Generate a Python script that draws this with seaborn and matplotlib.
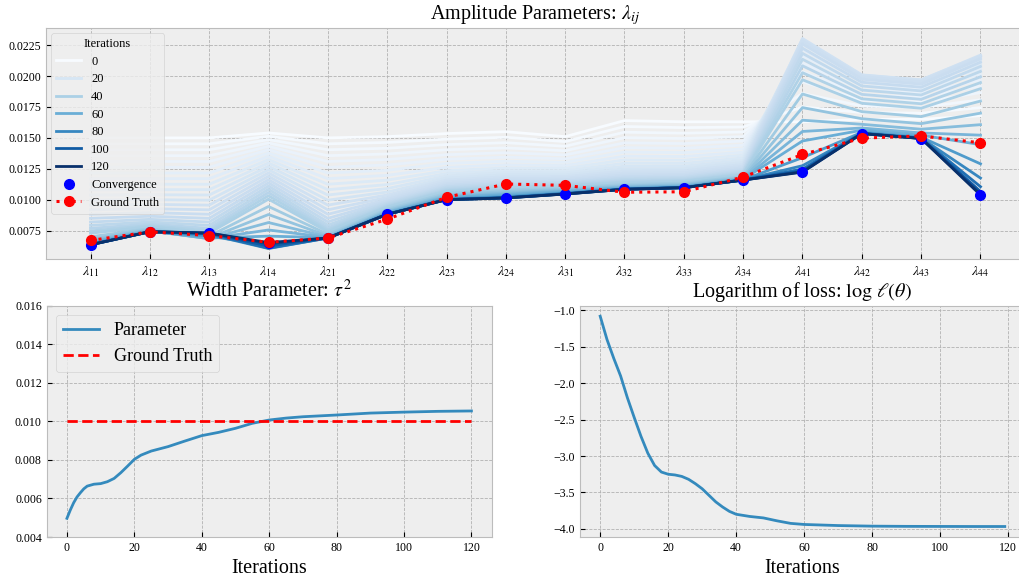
import numpy as np
import pandas as pd
import matplotlib
matplotlib.use("Agg")
import matplotlib.pyplot as plt
import seaborn as sns

# ---------------------------------------------------------------- data
param_labels = [r"$\lambda_{11}$", r"$\lambda_{12}$", r"$\lambda_{13}$", r"$\lambda_{14}$",
                r"$\lambda_{21}$", r"$\lambda_{22}$", r"$\lambda_{23}$", r"$\lambda_{24}$",
                r"$\lambda_{31}$", r"$\lambda_{32}$", r"$\lambda_{33}$", r"$\lambda_{34}$",
                r"$\lambda_{41}$", r"$\lambda_{42}$", r"$\lambda_{43}$", r"$\lambda_{44}$"]

# iterations at which the amplitude estimates were recorded
snapshot_iters = [0, 2, 4, 6, 8, 10, 12, 14, 16, 18, 20, 22, 24, 26, 28, 30, 32, 34, 36, 38, 40,
                  44, 48, 52, 56, 60, 70, 80, 90, 100, 110, 120]

lam11 = [0.01500, 0.01452, 0.01404, 0.01356, 0.01309, 0.01262, 0.01216, 0.01170, 0.01125, 0.01081, 0.01038,
         0.00996, 0.00956, 0.00918, 0.00882, 0.00849, 0.00819, 0.00792, 0.00768, 0.00747, 0.00729,
         0.00700, 0.00680, 0.00667, 0.00658, 0.00651, 0.00642, 0.00638, 0.00636, 0.00635, 0.00635, 0.00635]
lam12 = [0.01500, 0.01452, 0.01404, 0.01356, 0.01309, 0.01262, 0.01216, 0.01170, 0.01125, 0.01081, 0.01040,
         0.01000, 0.00962, 0.00927, 0.00895, 0.00866, 0.00841, 0.00820, 0.00803, 0.00790, 0.00780,
         0.00766, 0.00757, 0.00751, 0.00747, 0.00745, 0.00742, 0.00741, 0.00741, 0.00741, 0.00741, 0.00741]
lam13 = [0.01500, 0.01452, 0.01404, 0.01356, 0.01309, 0.01262, 0.01216, 0.01170, 0.01125, 0.01081, 0.01038,
         0.00996, 0.00956, 0.00918, 0.00882, 0.00849, 0.00819, 0.00792, 0.00768, 0.00748, 0.00731,
         0.00706, 0.00690, 0.00684, 0.00685, 0.00690, 0.00705, 0.00718, 0.00725, 0.00728, 0.00730, 0.00730]
lam14 = [0.01540, 0.01513, 0.01486, 0.01459, 0.01432, 0.01405, 0.01378, 0.01351, 0.01324, 0.01297, 0.01270,
         0.01243, 0.01216, 0.01189, 0.01162, 0.01136, 0.01110, 0.01084, 0.01058, 0.01032, 0.01004,
         0.00945, 0.00880, 0.00815, 0.00755, 0.00705, 0.00630, 0.00605, 0.00608, 0.00625, 0.00643, 0.00653]
lam21 = [0.01500, 0.01452, 0.01404, 0.01356, 0.01309, 0.01262, 0.01216, 0.01170, 0.01125, 0.01081, 0.01038,
         0.00996, 0.00956, 0.00918, 0.00882, 0.00849, 0.00820, 0.00794, 0.00772, 0.00754, 0.00740,
         0.00720, 0.00707, 0.00699, 0.00695, 0.00693, 0.00691, 0.00690, 0.00690, 0.00690, 0.00690, 0.00690]
lam22 = [0.01510, 0.01463, 0.01416, 0.01370, 0.01325, 0.01281, 0.01238, 0.01197, 0.01158, 0.01122, 0.01090,
         0.01062, 0.01038, 0.01018, 0.01001, 0.00987, 0.00975, 0.00964, 0.00954, 0.00945, 0.00937,
         0.00923, 0.00912, 0.00903, 0.00897, 0.00892, 0.00886, 0.00883, 0.00882, 0.00882, 0.00882, 0.00882]
lam23 = [0.01535, 0.01490, 0.01446, 0.01404, 0.01364, 0.01327, 0.01293, 0.01262, 0.01235, 0.01212, 0.01192,
         0.01174, 0.01158, 0.01143, 0.01129, 0.01116, 0.01104, 0.01093, 0.01083, 0.01074, 0.01066,
         0.01052, 0.01040, 0.01030, 0.01022, 0.01016, 0.01007, 0.01003, 0.01001, 0.01000, 0.01000, 0.01000]
lam24 = [0.01550, 0.01505, 0.01461, 0.01419, 0.01380, 0.01344, 0.01311, 0.01282, 0.01257, 0.01236, 0.01218,
         0.01201, 0.01185, 0.01170, 0.01156, 0.01143, 0.01131, 0.01120, 0.01110, 0.01101, 0.01093,
         0.01078, 0.01065, 0.01054, 0.01045, 0.01038, 0.01026, 0.01019, 0.01016, 0.01015, 0.01014, 0.01014]
lam31 = [0.01510, 0.01470, 0.01432, 0.01396, 0.01362, 0.01331, 0.01302, 0.01276, 0.01253, 0.01233, 0.01216,
         0.01200, 0.01186, 0.01173, 0.01161, 0.01150, 0.01140, 0.01131, 0.01123, 0.01115, 0.01108,
         0.01096, 0.01086, 0.01077, 0.01070, 0.01064, 0.01055, 0.01050, 0.01048, 0.01047, 0.01046, 0.01046]
lam32 = [0.01640, 0.01592, 0.01546, 0.01502, 0.01460, 0.01421, 0.01385, 0.01352, 0.01322, 0.01295, 0.01271,
         0.01250, 0.01231, 0.01214, 0.01199, 0.01186, 0.01174, 0.01163, 0.01153, 0.01144, 0.01136,
         0.01123, 0.01112, 0.01104, 0.01098, 0.01094, 0.01088, 0.01086, 0.01085, 0.01084, 0.01084, 0.01084]
lam33 = [0.01630, 0.01583, 0.01538, 0.01495, 0.01454, 0.01416, 0.01381, 0.01349, 0.01320, 0.01294, 0.01271,
         0.01251, 0.01233, 0.01217, 0.01203, 0.01191, 0.01180, 0.01170, 0.01161, 0.01153, 0.01146,
         0.01134, 0.01124, 0.01116, 0.01110, 0.01106, 0.01101, 0.01099, 0.01098, 0.01097, 0.01097, 0.01097]
lam34 = [0.01630, 0.01588, 0.01548, 0.01510, 0.01474, 0.01441, 0.01411, 0.01384, 0.01360, 0.01338, 0.01318,
         0.01300, 0.01284, 0.01270, 0.01257, 0.01245, 0.01234, 0.01224, 0.01215, 0.01207, 0.01200,
         0.01189, 0.01180, 0.01173, 0.01168, 0.01165, 0.01161, 0.01160, 0.01159, 0.01159, 0.01159, 0.01159]
lam41 = [0.01630, 0.01750, 0.01860, 0.01955, 0.02035, 0.02105, 0.02165, 0.02215, 0.02255, 0.02282, 0.02298,
         0.02304, 0.02300, 0.02285, 0.02260, 0.02226, 0.02184, 0.02136, 0.02083, 0.02027, 0.01970,
         0.01855, 0.01745, 0.01643, 0.01552, 0.01475, 0.01340, 0.01275, 0.01247, 0.01233, 0.01226, 0.01223]
lam42 = [0.01650, 0.01705, 0.01757, 0.01805, 0.01849, 0.01888, 0.01922, 0.01951, 0.01975, 0.01993, 0.02004,
         0.02010, 0.02008, 0.01995, 0.01975, 0.01950, 0.01920, 0.01887, 0.01852, 0.01816, 0.01780,
         0.01712, 0.01655, 0.01610, 0.01580, 0.01562, 0.01545, 0.01539, 0.01537, 0.01536, 0.01535, 0.01535]
lam43 = [0.01650, 0.01700, 0.01747, 0.01790, 0.01829, 0.01864, 0.01895, 0.01920, 0.01940, 0.01955, 0.01965,
         0.01970, 0.01968, 0.01955, 0.01935, 0.01910, 0.01880, 0.01847, 0.01812, 0.01776, 0.01740,
         0.01672, 0.01615, 0.01570, 0.01540, 0.01522, 0.01505, 0.01499, 0.01497, 0.01496, 0.01495, 0.01495]
lam44 = [0.01680, 0.01745, 0.01808, 0.01866, 0.01920, 0.01968, 0.02015, 0.02058, 0.02095, 0.02126, 0.02149,
         0.02164, 0.02170, 0.02160, 0.02140, 0.02112, 0.02078, 0.02038, 0.01994, 0.01947, 0.01898,
         0.01798, 0.01700, 0.01607, 0.01522, 0.01445, 0.01290, 0.01175, 0.01105, 0.01066, 0.01047, 0.01038]

lam_ground_truth = [0.00670, 0.00740, 0.00710, 0.00655, 0.00690, 0.00842, 0.01019, 0.01127,
                    0.01116, 0.01060, 0.01064, 0.01183, 0.01366, 0.01498, 0.01516, 0.01460]

# width parameter tau^2 over the optimisation
tau_iters = [0, 1, 2, 3, 4, 5, 6, 8, 10, 12, 14, 16, 18, 20, 22, 25, 30, 35, 40, 45, 50, 55,
             60, 65, 70, 80, 90, 100, 110, 120]
tau_vals = [0.00497, 0.00540, 0.00578, 0.00608, 0.00630, 0.00650, 0.00664, 0.00674, 0.00677, 0.00687,
            0.00704, 0.00734, 0.00768, 0.00803, 0.00825, 0.00846, 0.00869, 0.00898, 0.00926, 0.00943,
            0.00964, 0.00990, 0.01007, 0.01017, 0.01024, 0.01033, 0.01043, 0.01048, 0.01052, 0.01054]
tau_ground_truth = 0.010

# log-loss over the optimisation
loss_iters = [0, 2, 4, 6, 8, 10, 12, 14, 16, 18, 20, 22, 24, 26, 28, 30, 32, 34, 36, 38, 40,
              44, 48, 52, 56, 60, 70, 80, 90, 100, 110, 119]
loss_vals = [-1.08, -1.40, -1.66, -1.90, -2.20, -2.47, -2.73, -2.96, -3.13, -3.22, -3.25, -3.26,
             -3.28, -3.32, -3.38, -3.45, -3.54, -3.63, -3.70, -3.76, -3.80, -3.83, -3.85, -3.89,
             -3.925, -3.94, -3.955, -3.963, -3.966, -3.967, -3.968, -3.968]

# ---------------------------------------------------------------- style
plt.style.use("bmh")
plt.rcParams["font.family"] = ["Liberation Serif", "DejaVu Serif"]
plt.rcParams["mathtext.fontset"] = "stix"
plt.rcParams["xtick.direction"] = "in"
plt.rcParams["ytick.direction"] = "in"
plt.rcParams["xtick.labelsize"] = 8.6
plt.rcParams["ytick.labelsize"] = 8.6
plt.rcParams["axes.titlesize"] = 14.5
plt.rcParams["axes.labelsize"] = 14.5
plt.rcParams["grid.linestyle"] = "--"
plt.rcParams["grid.linewidth"] = 0.6
plt.rcParams["grid.color"] = "#b2b2b2"

fig = plt.figure(figsize=(10.2, 5.81), dpi=100)
ax_top = fig.add_axes([0.0451, 0.5542, 0.9598, 0.3976])
ax_tau = fig.add_axes([0.0458, 0.0757, 0.4362, 0.3981])
ax_loss = fig.add_axes([0.5686, 0.0757, 0.4363, 0.3981])

# ---------------------------------------------------------------- amplitudes
lam_series = [lam11, lam12, lam13, lam14, lam21, lam22, lam23, lam24,
              lam31, lam32, lam33, lam34, lam41, lam42, lam43, lam44]
records = []
for k, it in enumerate(snapshot_iters):
    for label, series in zip(param_labels, lam_series):
        records.append({"param": label, "value": series[k], "Iterations": it})
df = pd.DataFrame(records)

sns.lineplot(data=df, x="param", y="value", hue="Iterations", palette="Blues",
             hue_norm=(0, 120), estimator=None, sort=False, linewidth=2.0,
             legend="brief", ax=ax_top)

lam_final = [series[-1] for series in lam_series]
h_conv, = ax_top.plot(param_labels, lam_final, "o", color="blue", ms=7, zorder=5,
                      label="Convergence")
h_gt, = ax_top.plot(param_labels, lam_ground_truth, ":", color="red", lw=2.2,
                    marker="o", ms=7, zorder=6, label="Ground Truth")

leg = ax_top.get_legend()
hue_handles = list(leg.legend_handles)
hue_labels = [t.get_text() for t in leg.get_texts()]
ax_top.legend(hue_handles + [h_conv, h_gt], hue_labels + ["Convergence", "Ground Truth"],
              title="Iterations", loc="upper left", fontsize=9, title_fontsize=9,
              labelspacing=0.45, borderaxespad=0.4)
ax_top.set_title(r"Amplitude Parameters: $\lambda_{ij}$")
ax_top.set_xlabel("")
ax_top.set_ylabel("")
ax_top.tick_params(axis="x", labelsize=10)

# ---------------------------------------------------------------- tau^2
sns.lineplot(x=tau_iters, y=tau_vals, color="#348ABD", linewidth=2, ax=ax_tau,
             label="Parameter")
ax_tau.plot([tau_iters[0], tau_iters[-1]], [tau_ground_truth, tau_ground_truth], "--",
            color="red", lw=2, label="Ground Truth")
ax_tau.set_ylim(0.004, 0.016)
ax_tau.set_title(r"Width Parameter: $\tau^2$")
ax_tau.set_xlabel("Iterations")
ax_tau.legend(loc="upper left", fontsize=13)

# ---------------------------------------------------------------- loss
sns.lineplot(x=loss_iters, y=loss_vals, color="#348ABD", linewidth=2, ax=ax_loss)
ax_loss.set_title(r"Logarithm of loss: $\log\,\ell(\theta)$")
ax_loss.set_xlabel("Iterations")

fig.savefig("out.png", dpi=100)
